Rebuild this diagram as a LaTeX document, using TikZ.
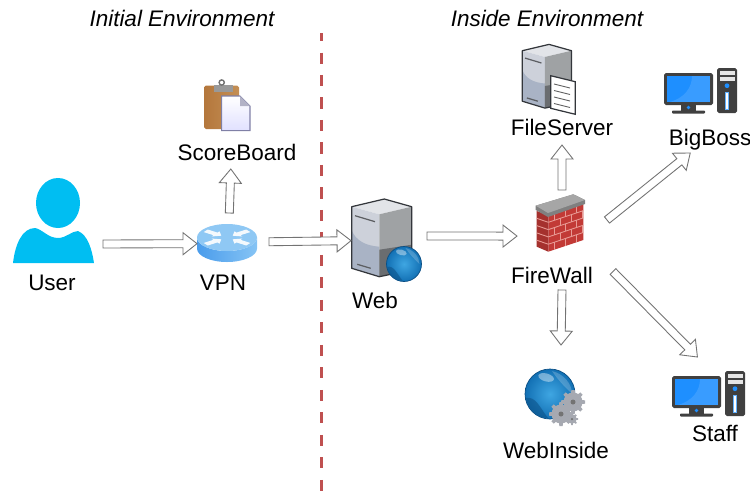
\documentclass[tikz,border=0pt]{standalone}
\usepackage{fontspec}
\setmainfont{Liberation Sans}
\usetikzlibrary{calc}

\definecolor{userblue}{HTML}{00BEF2}
\definecolor{pcdark}{HTML}{404040}
\definecolor{pcblue}{HTML}{1E8FFF}
\definecolor{dashred}{HTML}{BF5050}
\definecolor{brickred}{HTML}{C23A36}
\definecolor{brickline}{HTML}{E89A94}
\definecolor{serverlight}{HTML}{CDD1DA}
\definecolor{serverlow}{HTML}{A9B3C5}
\definecolor{servertop}{HTML}{E2E4E8}
\definecolor{serverside}{HTML}{9FA2A4}
\definecolor{serverdark}{HTML}{6A6D70}
\definecolor{serverline}{HTML}{33363B}
\definecolor{globein}{HTML}{3FA6E2}
\definecolor{globeout}{HTML}{1270B4}
\definecolor{globedark}{HTML}{0B4F84}
\definecolor{gearmid}{HTML}{A6A9B1}
\definecolor{routerleft}{HTML}{4A9CEB}
\definecolor{routerright}{HTML}{86C4F5}
\definecolor{routertop}{HTML}{8FC8F4}
\definecolor{boardleft}{HTML}{B4773C}
\definecolor{boardright}{HTML}{C48F55}

\tikzset{
  lbl/.style={inner sep=0pt, outer sep=0pt, font=\fontsize{12.8}{15}\selectfont, text height=.38cm, text depth=.06cm},
  iconbox/.style={inner sep=0pt, outer sep=0pt},
  flow/.style={draw=black!55, fill=white, line width=.5pt, line join=miter,
    to path={let \p1=(\tikztostart), \p2=(\tikztotarget),
      \n1={atan2(\y2-\y1,\x2-\x1)}, \p3=($(\p2)+(\n1:-.28cm)$) in
      ($(\p1)+(\n1+90:.08cm)$) -- ($(\p3)+(\n1+90:.08cm)$) -- ($(\p3)+(\n1+90:.22cm)$) -- (\p2)
      -- ($(\p3)+(\n1-90:.22cm)$) -- ($(\p3)+(\n1-90:.08cm)$) -- ($(\p1)+(\n1-90:.08cm)$) -- cycle}},
  pics/pcicon/.style={code={
    \fill[pcdark, rounded corners=1pt] (0,5) rectangle (49,37);
    \fill[pcblue] (3,8) rectangle (46,34);
    \fill[white, opacity=.12] (28,8) .. controls (28,20) and (20,30) .. (6,34) -- (46,34) -- (46,8) -- cycle;
    \fill[pcdark] (17,37) rectangle (32,43);
    \fill[pcdark, rounded corners=.5pt] (8,42.5) rectangle (41,45.5);
    \fill[pcblue] (24.5,39.5) circle (1.8);
    \fill[pcdark, rounded corners=1pt] (53,0) rectangle (73,45);
    \fill[white!90!black] (55.5,2.7) rectangle (70.5,7);
    \fill[white!90!black] (55.5,9.3) rectangle (70.5,12.7);
    \fill[pcblue] (63,17.7) circle (2.4);
    \draw[pcblue!70!white, fill=white, line width=.4pt] (61.5,24) rectangle (64.5,41);
  }},
  pics/servericon/.style={code={
    \fill[servertop] (0,0) -- (32.6,-7.7) -- (60,0) -- (27.6,7.6) -- cycle;
    \fill[serverlight] (0,0) -- (27.6,7.6) -- (27.6,70) -- (0,61.6) -- cycle;
    \fill[serverlow] (0,23.5) .. controls (4,34) and (14,39) .. (27.6,40) -- (27.6,70) -- (0,61.6) -- cycle;
    \fill[serverside] (27.6,7.6) -- (60,0) -- (60,63.3) -- (27.6,70) -- cycle;
    \fill[serverdark] (27.6,43) -- (60,38) -- (60,63.3) -- (27.6,70) -- cycle;
    \draw[serverline, line width=.7pt, line join=round] (0,0) -- (32.6,-7.7) -- (60,0) -- (60,63.3) -- (27.6,70) -- (0,61.6) -- cycle;
    \draw[serverline!80, line width=.7pt] (3.3,9) -- (23.3,15);
    \draw[serverline!80, line width=.7pt] (5.6,57.6) -- (19,61.6);
  }},
  pics/globeicon/.style={code={
    \shade[inner color=globein, outer color=globeout, draw=globedark] (0,0) circle (25);
    \fill[globedark, opacity=.55] (-24,4) .. controls (-14,2) and (-10,14) .. (-2,24) .. controls (-12,24) and (-22,16) .. (-24,4) -- cycle;
    \fill[white, opacity=.4, rotate=-15] (-8,-15) ellipse (8 and 4);
    \fill[white, opacity=.2] (2,-23) .. controls (14,-20) and (22,-10) .. (22,0) .. controls (14,-8) and (8,-14) .. (2,-23) -- cycle;
  }},
  pics/gearicon/.style={code={
    \foreach \a in {0,45,...,315}
      \fill[gearmid, rotate=\a] (-2.4,0) -- (-1.7,12) -- (1.7,12) -- (2.4,0) -- cycle;
    \fill[gearmid] (0,0) circle (9.5);
    \fill[black!55] (0,0) circle (2.5);
  }},
}

\begin{document}
\begin{tikzpicture}[x=.02cm, y=-.02cm]

  \useasboundingbox (0,0) rectangle (750,491);

  % titles
  \node[lbl, font=\fontsize{12.8}{15}\selectfont\itshape] (initialtitle) at (182,18) {Initial Environment};
  \node[lbl, font=\fontsize{12.8}{15}\selectfont\itshape] (insidetitle) at (547,18) {Inside Environment};

  % border between the two environments
  \coordinate (bordertop) at (321.3,33);
  \coordinate (borderbottom) at (321.3,491);
  \draw[dashred, line width=2pt, dash pattern=on 6.3pt off 6.5pt, dash phase=1.7pt] (bordertop) -- (borderbottom);

  % user
  \fill[userblue] (58,203) ellipse (22 and 25);
  \fill[userblue] (13,263) .. controls (15,245) and (22,228) .. (35,228) .. controls (42,229) and (48,238) .. (58,238)
    .. controls (66,238) and (72,231) .. (78,231) .. controls (88,235) and (92,250) .. (94,263) -- cycle;
  \node[iconbox, minimum width=2cm, minimum height=.8cm] (user) at (53,244) {};
  \node[lbl] (userlabel) at (52,282) {User};

  % router
  \shade[left color=routerleft, right color=routerright] (197,237.5) -- (197,248.5) arc (180:0:30 and 13.5) -- (257,237.5) arc (0:180:30 and 13.5) -- cycle;
  \fill[routertop] (227,237.5) ellipse (30 and 13.5);
  \foreach \a in {35,145,215,325}
    \fill[white, opacity=.9, shift={(227,237.5)}, yscale=.45, rotate=\a]
      (7,0) -- (14,-7) -- (14,-3.5) -- (26,-3.5) -- (26,3.5) -- (14,3.5) -- (14,7) -- cycle;
  \node[iconbox, minimum width=1.44cm, minimum height=1.2cm] (vpn) at (233,243) {};
  \node[lbl] (vpnlabel) at (223,282) {VPN};

  % clipboard
  \shade[left color=boardleft, right color=boardright, rounded corners=1pt] (204,85.7) rectangle (239,129);
  \fill[black!40] (214,85) rectangle (233,92);
  \draw[black!55, line width=.8pt] (221.7,82.5) circle (2.6);
  \shade[top color=white, bottom color=blue!12, draw=blue!30!black!50, line width=.6pt] (221.7,96) -- (240,96) -- (250,106) -- (250,130.7) -- (221.7,130.7) -- cycle;
  \fill[blue!25!black!30] (240,96) -- (250,106) -- (240,106) -- cycle;
  \node[lbl, minimum width=2.4cm, minimum height=.68cm] (scoreboard) at (237,152) {ScoreBoard};

  % web server
  \pic at (351.7,206.7) {servericon};
  \pic[scale=.7] at (404,264) {globeicon};
  \node[iconbox, minimum width=1.52cm, minimum height=1.6cm] (web) at (389,238) {};
  \node[lbl] (weblabel) at (375,300) {Web};

  % file server
  \pic[scale=.82] at (522.3,50.7) {servericon};
  \fill[white, draw=serverline, line width=.7pt] (550.7,75.7) -- (575.3,81.7) -- (575.3,114.3) -- (550.7,108.3) -- cycle;
  \foreach \k in {0,1,2,3}
    \draw[black!60, line width=.5pt] (554,{84+6.5*\k}) -- (570,{88+6.5*\k});
  \node[lbl, minimum width=2cm, minimum height=.72cm] (fileserver) at (562,127) {FileServer};

  % firewall
  \fill[brickred] (548.3,215) -- (583.3,203.3) -- (583.3,240) -- (548.3,251.7) -- cycle;
  \fill[brickred!85!black] (536.7,211) -- (548.3,215) -- (548.3,251.7) -- (536.7,246.7) -- cycle;
  \foreach \k in {1,2,3,4}
    \draw[brickline, line width=.5pt] (548.3,{215+7.3*\k}) -- (583.3,{203.3+7.3*\k});
  \foreach \k in {1,2,3,4}
    \draw[brickline, line width=.5pt] (536.7,{211+7.3*\k}) -- (548.3,{215+7.3*\k});
  \foreach \k/\s in {0/0,1/6,2/0,3/6,4/0}
    \foreach \i in {0,1,2}
      \draw[brickline, line width=.5pt] ({554+\s+11*\i},{213-.334*(\s+11*\i)+7.3*\k}) -- ++(0,7.3);
  \fill[black!50] (535.7,205.7) -- (573.3,194.3) -- (585,200) -- (585,204) -- (548,217) -- (535.7,210) -- cycle;
  \fill[black!35] (535.7,205.7) -- (573.3,194.3) -- (585,200) -- (548,213) -- cycle;
  \node[iconbox, minimum width=1.8cm, minimum height=2cm] (firewall) at (562,240) {};
  \node[lbl] (firewalllabel) at (552,275) {FireWall};

  % boss computer
  \pic at (664,68) {pcicon};
  \node[lbl, minimum width=1.6cm, minimum height=.64cm] (bigboss) at (710,137) {BigBoss};

  % staff computer
  \pic at (672,371) {pcicon};
  \node[iconbox, minimum width=1.6cm, minimum height=1.8cm] (staff) at (707,402) {};
  \node[lbl] (stafflabel) at (715,433) {Staff};

  % inner web site
  \pic at (550,394) {globeicon};
  \pic at (573,402) {gearicon};
  \pic at (561,414) {gearicon};
  \pic[scale=.5] at (572,419) {gearicon};
  \node[iconbox, minimum width=1.6cm, minimum height=2cm] (webinside) at (561,395) {};
  \node[lbl] (webinsidelabel) at (556,450) {WebInside};

  % connections
  \draw[flow] (user.east) to (vpn.181);
  \draw[flow] (vpn.97) to (scoreboard.250);
  \draw[flow] (vpn.2) to (web.184);
  \draw[flow] (web.3) to (firewall.175);
  \draw[flow] (firewall.north) to (fileserver.south);
  \draw[flow] (firewall.south) to (webinside.north);
  \draw[flow] (firewall.24) to (bigboss.219);
  \draw[flow] ($(firewall.-35)+(6,0)$) to (staff.102);

\end{tikzpicture}
\end{document}
